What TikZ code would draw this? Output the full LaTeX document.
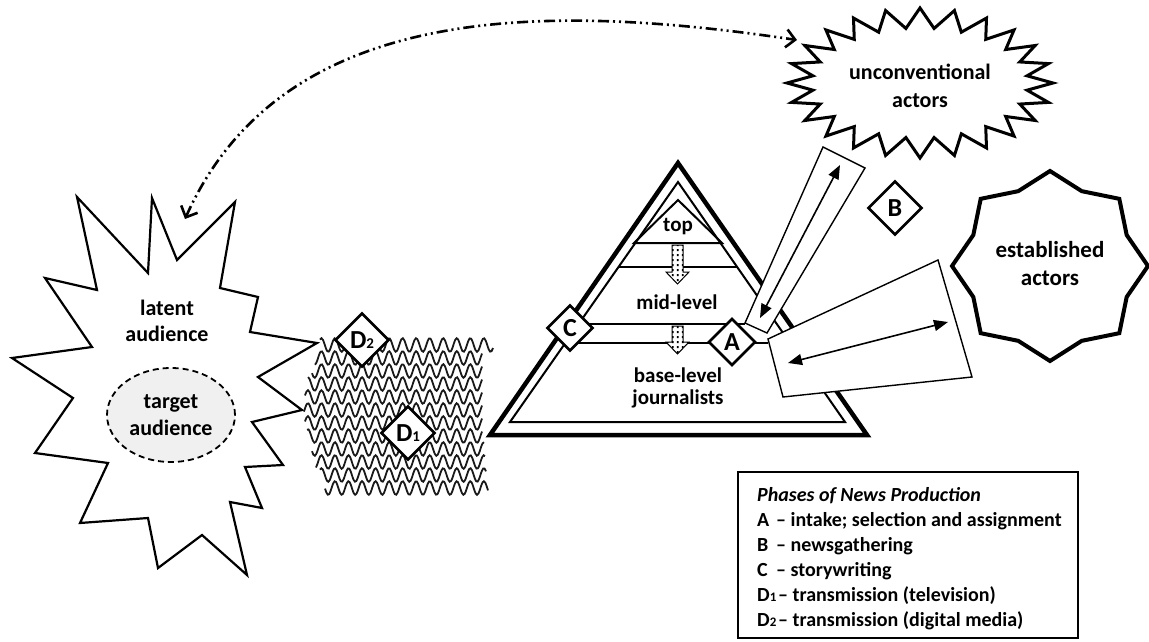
\documentclass[tikz,border=0pt]{standalone}
\usepackage{fontspec}
\setmainfont{Carlito}
\usetikzlibrary{arrows.meta,patterns.meta,shapes.geometric}
\tikzdeclarepattern{
  name=bigdots,
  type=uncolored,
  bounding box={(0pt,0pt) and (4.5pt,4.5pt)},
  tile size={(4.5pt,4.5pt)},
  code={\fill (1pt,1pt) rectangle (3pt,3pt);}
}
\begin{document}
\begin{tikzpicture}[x=1pt,y=-1pt,line join=miter,
  phase/.style={shape=diamond, draw, fill=white, line width=2.6pt, inner sep=0pt, minimum size=#1, font=\fontsize{26}{26}\selectfont\bfseries},
  wave/.style={line width=1.8pt, draw=black!90},
  chan/.style={draw, fill=white, line width=1.4pt},
  twoway/.style={line width=1.6pt, {Triangle[length=14pt,width=11pt]}-{Triangle[length=14pt,width=11pt]}},
  ddash/.style={line width=2.6pt, dash pattern=on 11pt off 4pt on 2pt off 4pt on 2pt off 4pt, {Straight Barb[length=9pt,width=18pt]}-{Straight Barb[length=9pt,width=18pt]}},
  dotarrow/.style={draw, line width=1pt, fill=white, postaction={pattern=bigdots}},
  pyr/.style={font=\fontsize{21}{21}\selectfont\bfseries, align=center},
  leg/.style={anchor=base west, inner sep=0pt, font=\fontsize{20}{24}\selectfont\bfseries}
]
\path[use as bounding box, fill=white] (0,0) rectangle (1149,642);

% latent audience
\draw[line width=2.2pt, fill=white] (77,197) -- (148,273) -- (152,198) -- (177,260) -- (235,202) -- (220,288) -- (258,297) -- (250,332) -- (317,343) -- (258,377) -- (302,410) -- (252,422) -- (283,465) -- (245,467) -- (262,508) -- (230,502) -- (247,575) -- (202,535) -- (158,568) -- (148,518) -- (80,523) -- (108,463) -- (35,453) -- (73,398) -- (12,358) -- (92,347) -- (45,278) -- (97,290) -- cycle;
\node[font=\fontsize{22}{26}\selectfont\bfseries, align=center] (latent) at (167,321) {latent\\audience};
\node[ellipse, draw, dashed, dash pattern=on 6pt off 4pt, line width=1.8pt, fill=black!6, minimum width=128pt, minimum height=94pt, inner sep=0pt, font=\fontsize{22}{27}\selectfont\bfseries, align=center] (target) at (171,415) {target\\audience};

% waves
\foreach \yy/\xa/\xb in {345/320/493, 358/315/482, 371/312/482, 384/308/482, 397/305/482, 410/304/482, 423/305/482, 436/307/482, 449/312/484, 462/316/485, 475/320/486, 488/325/488}
  \draw[wave] plot[domain=\xa:\xb, samples=120, smooth] (\x, {\yy + 6.8*sin(\x*26.6)});

\node[phase=54pt] (dD2) at (362,340) {D{\fontsize{15}{15}\selectfont 2}};
\node[phase=54pt] (dD1) at (408,433) {D{\fontsize{15}{15}\selectfont 1}};

% pyramid
\draw[line width=4.5pt] (678,163) -- (867,435) -- (490,435) -- cycle;
\draw[line width=2pt] (678,182) -- (845,422) -- (510,422) -- cycle;
\draw[line width=2pt] (678,200) -- (722,243) -- (634,243) -- cycle;
\draw[line width=2pt] (618,267) -- (737,267);
\draw[line width=2pt] (570,324) -- (745,324);
\draw[line width=2pt] (570,343) -- (768,343);
\path[dotarrow] (672,245) -- (683,245) -- (683,272) -- (689,272) -- (677.5,284) -- (666,272) -- (672,272) -- cycle;
\path[dotarrow] (672,326) -- (683,326) -- (683,342) -- (689,342) -- (677.5,354) -- (666,342) -- (672,342) -- cycle;
\node[pyr] (topL) at (678,227) {top};
\node[pyr] (midL) at (677,302) {mid-level};
\node[pyr, font=\fontsize{21}{21.5}\selectfont\bfseries] (baseL) at (678,388) {base-level\\journalists};

% channels
\draw[chan] (823,147) -- (865,168) -- (767,333) -- (745,323) -- cycle;
\coordinate (t1) at (760,318);
\coordinate (t2) at (840,165);
\draw[twoway] (t1) -- (t2);
\draw[chan] (768,339) -- (938,260) -- (972,377) -- (783,397) -- cycle;
\coordinate (w1) at (788,363);
\coordinate (w2) at (948,322);
\draw[twoway] (w1) -- (w2);

\node[phase=46pt] (dC) at (570,328) {C};
\node[phase=47pt] (dA) at (732,342) {A};
\node[phase=54pt] (dB) at (895,208) {B};

% unconventional actors
\draw[line width=3pt, fill=white] plot[samples=48, domain=0:47] ({920+(133-25*mod(round(\x),2))*cos(\x*7.5)}, {83+(75-20*mod(round(\x),2))*sin(\x*7.5)}) -- cycle;
\node[font=\fontsize{22}{28}\selectfont\bfseries, align=center] (uncon) at (920,86) {unconventional\\actors};

% established actors
\draw[line width=4pt, fill=white] plot[samples=16, domain=0:15] ({1050+(98-15*mod(round(\x),2))*cos(\x*22.5)}, {266+(95-14*mod(round(\x),2))*sin(\x*22.5)}) -- cycle;
\node[font=\fontsize{23}{28}\selectfont\bfseries, align=center] (estab) at (1050,264) {established\\actors};

% dash-dot connector
\coordinate (la) at (185,219);
\coordinate (ua) at (797,40);
\draw[ddash] (la) .. controls (285,-5) and (560,5) .. (ua);

% legend
\draw[line width=2.4pt] (738,472) rectangle (1078,638);
\node[leg, font=\fontsize{20}{24}\selectfont\bfseries\itshape] (lg0) at (757,501) {Phases of News Production};
\node[leg] (lg1) at (757,526) {\makebox[19pt][l]{A}– intake; selection and assignment};
\node[leg] (lg2) at (757,551) {\makebox[19pt][l]{B}– newsgathering};
\node[leg] (lg3) at (757,576) {\makebox[19pt][l]{C}– storywriting};
\node[leg] (lg4) at (757,601) {\makebox[21pt][l]{D{\fontsize{13}{13}\selectfont 1}}– transmission (television)};
\node[leg] (lg5) at (757,626) {\makebox[21pt][l]{D{\fontsize{13}{13}\selectfont 2}}– transmission (digital media)};
\end{tikzpicture}
\end{document}
